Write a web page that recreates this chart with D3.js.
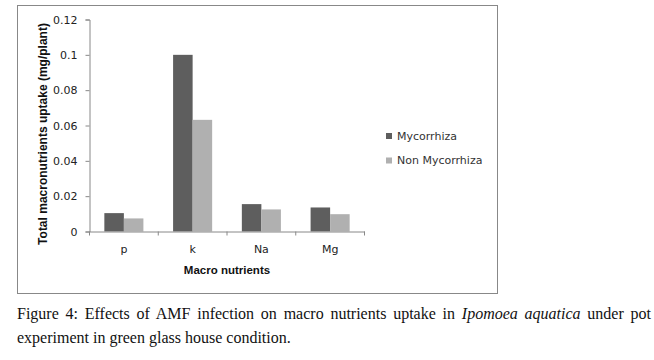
<!DOCTYPE html>
<html>
<head>
<meta charset="utf-8">
<script src="https://cdn.jsdelivr.net/npm/d3@7"></script>
<style>
  body { margin: 0; background: #fff; }
  .caption {
    position: absolute; left: 17px; width: 634px;
    font-family: "Liberation Serif", "Times New Roman", serif;
    font-size: 16px; color: #111; white-space: nowrap;
  }
  .caption.l1 { top: 305px; text-align: justify; text-align-last: justify; white-space: normal; }
  .caption.l2 { top: 329px; }
</style>
</head>
<body>
<svg id="chart" width="654" height="300"></svg>
<div class="caption l1">Figure 4: Effects of AMF infection on macro nutrients uptake in <i>Ipomoea aquatica</i> under pot</div>
<div class="caption l2">experiment in green glass house condition.</div>
<script>
const categories = ["p", "k", "Na", "Mg"];
const seriesNames = ["Mycorrhiza", "Non Mycorrhiza"];
const mycorrhiza = [0.0104, 0.1, 0.0155, 0.0136];
const nonMycorrhiza = [0.0074, 0.0632, 0.0125, 0.0098];
const yTicks = [0, 0.02, 0.04, 0.06, 0.08, 0.1, 0.12];
const colors = ["#5e5e5e", "#b0b0b0"];

const svg = d3.select("#chart");

// outer frame
svg.append("rect")
  .attr("x", 17.5).attr("y", 5.5)
  .attr("width", 480).attr("height", 288)
  .attr("fill", "none").attr("stroke", "#888").attr("stroke-width", 1);

const x = d3.scaleBand().domain(categories).range([89.5, 364.5]);
const xInner = d3.scaleBand().domain(seriesNames).range([0, x.bandwidth()]).paddingOuter(0.76).paddingInner(0);
const y = d3.scaleLinear().domain([0, 0.12]).range([231.5, 19.5]);

const data = categories.map((c, i) => ({
  cat: c,
  vals: [
    { s: seriesNames[0], v: mycorrhiza[i] },
    { s: seriesNames[1], v: nonMycorrhiza[i] }
  ]
}));

// bars
svg.append("g").selectAll("g")
  .data(data)
  .join("g")
    .attr("transform", d => `translate(${x(d.cat)},0)`)
  .selectAll("rect")
  .data(d => d.vals)
  .join("rect")
    .attr("x", d => xInner(d.s))
    .attr("width", xInner.bandwidth())
    .attr("y", d => y(d.v))
    .attr("height", d => y(0) - y(d.v))
    .attr("fill", (d, i) => colors[i]);

// y axis
const yAxis = svg.append("g")
  .attr("transform", "translate(89.5,0)")
  .call(d3.axisLeft(y).tickValues(yTicks).tickSize(4).tickPadding(8)
    .tickFormat(d => d === 0 ? "0" : String(+d.toFixed(2))));
yAxis.select(".domain").attr("stroke", "#888");
yAxis.selectAll(".tick line").attr("stroke", "#888");
yAxis.selectAll("text")
  .attr("font-family", "DejaVu Sans, sans-serif").attr("font-size", 11).attr("fill", "#222");

// x axis
const xAxis = svg.append("g")
  .attr("transform", "translate(0,231.5)")
  .call(d3.axisBottom(x).tickSize(0).tickPadding(14));
xAxis.select(".domain").attr("stroke", "#888");
xAxis.selectAll("text")
  .attr("font-family", "DejaVu Sans, sans-serif").attr("font-size", 11).attr("fill", "#222");
svg.append("g").selectAll("line")
  .data(categories.map(c => x(c)).concat([x.range()[1]]))
  .join("line")
    .attr("x1", d => d).attr("x2", d => d)
    .attr("y1", 231.5).attr("y2", 235.5)
    .attr("stroke", "#888");

// axis titles
svg.append("text")
  .attr("x", (x.range()[0] + x.range()[1]) / 2).attr("y", 274)
  .attr("text-anchor", "middle")
  .attr("font-family", "Liberation Sans, Arial, sans-serif").attr("font-weight", "bold")
  .attr("font-size", 11.5).attr("fill", "#111")
  .text("Macro nutrients");

svg.append("text")
  .attr("transform", "translate(47,134) rotate(-90)")
  .attr("text-anchor", "middle")
  .attr("font-family", "Liberation Sans, Arial, sans-serif").attr("font-weight", "bold")
  .attr("font-size", 12).attr("fill", "#111")
  .text("Total macronutrients uptake (mg/plant)");

// legend
const legend = svg.append("g").attr("transform", "translate(386,136)");
const item = legend.selectAll("g")
  .data(seriesNames)
  .join("g")
    .attr("transform", (d, i) => `translate(0,${i * 24.5})`);
item.append("rect")
  .attr("x", 0).attr("y", -3).attr("width", 6).attr("height", 6)
  .attr("fill", (d, i) => colors[i]);
item.append("text")
  .attr("x", 11).attr("y", 0).attr("dy", "0.35em")
  .attr("font-family", "DejaVu Sans, sans-serif").attr("font-size", 11).attr("fill", "#333")
  .text(d => d);
</script>
</body>
</html>
